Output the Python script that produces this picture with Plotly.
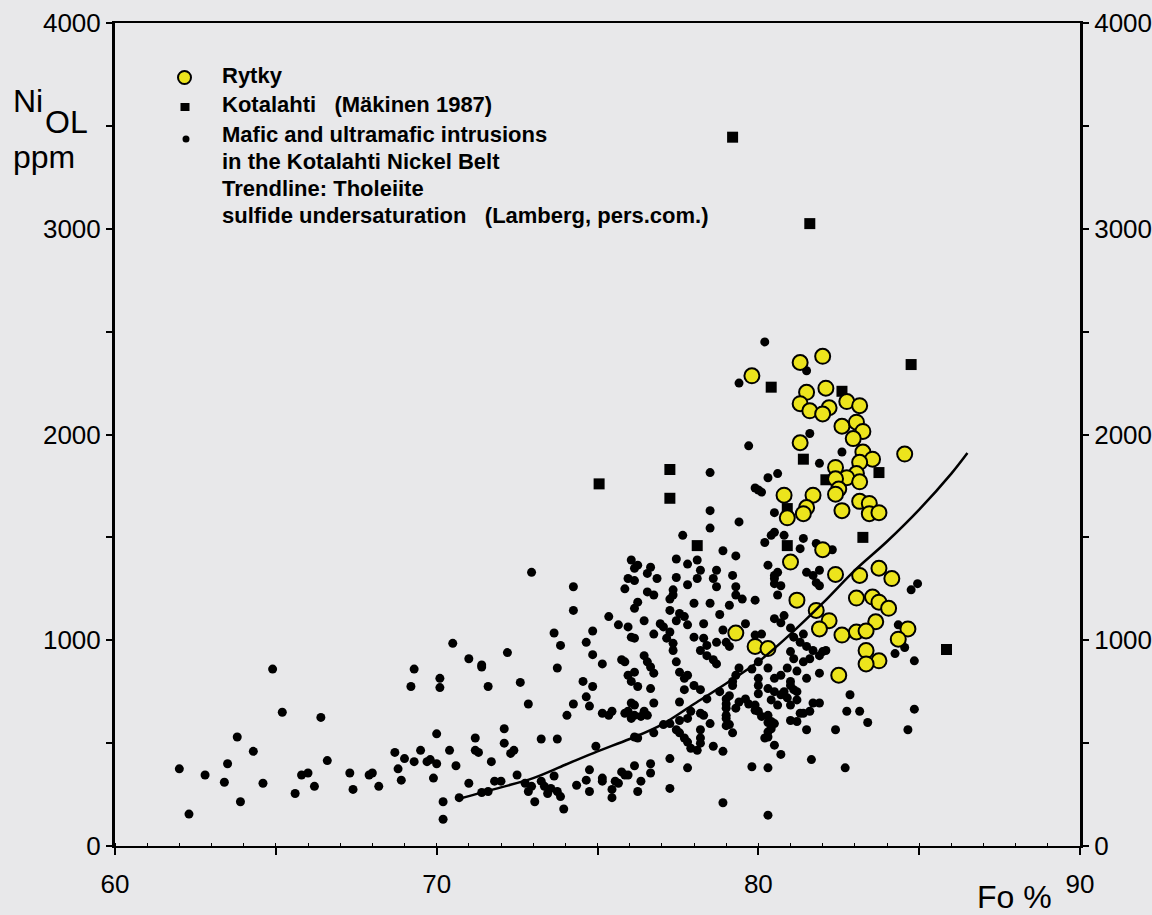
import plotly.graph_objects as go

# ---------------- data (Fo %, Ni ppm) ----------------
mafic = [
    (62.0,375),(62.3,155),(62.8,345),(63.4,310),(63.5,400),(63.8,530),(63.9,215),(64.3,460),(64.6,305),(64.9,860),
    (65.2,650),(65.6,255),(65.8,345),(66.0,355),(66.2,290),(66.4,625),(66.6,415),(67.3,355),(67.4,275),(67.9,345),
    (68.0,355),(68.2,290),(68.7,455),(68.8,375),(68.9,320),(69.0,425),(69.2,775),(69.3,860),(69.3,410),(69.5,465),
    (69.7,410),(69.8,420),(69.9,330),(70.0,545),(70.0,400),
    (70.1,815),(70.1,770),(70.2,215),(70.2,130),(70.4,465),(70.5,985),(70.6,390),(70.7,235),(71.0,910),(71.0,305),
    (71.2,525),(71.2,465),(71.3,455),(71.4,870),(71.4,880),(71.6,775),(71.7,410),(71.4,260),(71.6,265),(71.8,315),
    (72.0,315),(72.2,940),(72.6,795),(72.1,570),(72.1,500),(72.3,450),(72.4,465),(72.5,345),
    (72.85,690),(72.75,305),(72.95,290),(72.85,265),(73.05,215),(73.25,520),(73.75,520),(73.25,315),(73.35,290),
    (73.45,255),(73.65,340),(73.55,280),(73.75,265),(73.85,240),(73.95,180),(73.65,1035),(73.85,975),(73.75,865),
    (72.95,1330),
    (74.85,1045),(74.65,990),(74.85,930),(75.15,885),(74.55,800),(74.85,775),(74.65,725),(74.75,680),(74.25,690),
    (74.05,635),(75.15,645),(75.35,635),(75.45,655),(75.75,905),(75.85,895),(75.65,1075),(75.95,1065),(76.15,1010),
    (76.15,845),(75.95,655),(76.15,635),(76.15,685),(74.35,295),(74.65,320),(74.75,370),(74.75,265),(75.15,330),
    (75.15,315),(75.45,275),(75.45,235),(75.75,360),(75.85,345),(75.95,345),(75.55,315),(75.65,305),(76.15,390),
    (76.35,315),(76.25,265),(74.95,485),(76.15,530),(74.25,1260),(74.25,1145),(75.35,1115),(76.65,400),(76.65,355),
    (78.5,1630),(79.4,1575),(78.5,1545),(77.65,1510),(78.9,1435),(79.3,1410),(76.05,1390),(76.25,1365),(76.15,1350),
    (76.65,1355),(76.55,1325),(76.85,1300),(77.45,1395),(77.8,1370),(78.1,1390),(77.45,1305),(77.8,1270),(78.2,1340),
    (78.1,1300),(78.7,1340),(78.6,1300),(78.7,1260),(79.2,1315),(75.95,1300),(76.15,1290),(75.85,1250),(76.55,1235),
    (76.75,1220),(77.35,1245),(77.35,1220),(77.25,1200),(76.25,1185),(76.15,1155),(78.0,1180),(78.5,1180),(79.1,1170),
    (79.3,1220),(79.5,1200),(79.9,1195),(77.25,1145),(77.55,1130),(77.7,1115),(78.8,1125),(76.45,1095),(76.95,1080),
    (77.05,1065),(77.25,1040),(77.45,1095),(77.8,1075),(78.3,1080),(78.9,1050),(79.6,1080),(76.05,1015),(76.75,1030),
    (77.15,1010),(77.35,985),(77.35,950),(78.0,1015),(78.3,1010),(78.4,975),(78.7,990),(79.0,990),(79.1,970),
    (79.9,1025),(80.1,1030),(80.5,1105),(80.3,1365),(80.5,1315),(80.5,1275),(80.2,1475),(80.4,1510),(80.5,1525),
    (80.5,1620),(76.45,925),(76.55,895),(76.65,870),(76.75,840),(76.65,765),(77.45,895),(77.55,845),(77.7,815),
    (77.8,830),(78.2,950),(78.4,925),(78.6,905),(78.7,885),(78.0,780),(78.2,760),(79.4,865),(79.3,830),(79.2,800),
    (80.0,895),(80.3,865),(80.5,815),(80.3,765),
    (76.05,695),(76.75,695),(75.85,645),(76.45,655),(76.55,635),(76.05,620),(76.35,630),(77.55,700),(77.7,760),
    (77.9,655),(77.8,620),(77.55,610),(77.45,565),(77.55,550),(77.7,525),(77.8,505),(77.9,475),(78.1,465),(78.2,500),
    (77.25,595),(77.05,590),(76.75,550),(76.25,525),(78.3,635),(78.5,595),(78.2,565),(78.6,485),(78.4,715),(78.8,750),
    (79.0,715),(79.0,670),(79.0,620),(79.1,590),(79.2,550),(78.9,460),(79.3,670),(79.4,700),(79.6,715),(79.9,685),
    (80.0,655),(80.3,635),(80.4,605),(80.3,555),(80.3,530),(80.5,490),(77.25,425),(77.8,380),(77.25,280),(78.9,210),
    (79.8,385),(80.3,380),(80.3,150),
    (80.2,2450),(81.5,2310),(79.4,2250),(81.6,2005),(79.7,1945),(82.6,1915),(81.9,1860),(80.6,1810),(80.3,1790),
    (79.9,1740),(80.1,1720),(80.0,1730),(78.5,1815),
    (82.3,1440),(81.8,1470),(81.4,1495),(81.3,1445),(81.5,1330),(81.7,1315),(81.9,1340),(81.8,1280),(81.9,1265),
    (84.95,1275),(84.75,1245),(84.35,1075),(84.25,935),(84.85,900),(81.4,895),(81.6,910),(81.9,925),(82.0,945),
    (82.1,950),(81.9,840),(81.5,815),(80.8,1120),(81.0,1060),(81.4,1030),(81.1,1015),(81.3,990),(81.5,970),
    (81.7,950),(80.6,1330),(80.5,1300),(80.7,1265),(80.6,1220),(80.8,1510),(82.85,735),(81.0,780),(81.2,750),
    (81.0,945),(81.1,910),(84.55,965),
    (80.0,740),(80.5,750),(80.7,735),(80.4,710),(80.6,685),(81.2,710),(81.1,760),(81.7,695),(81.9,695),(81.3,645),
    (81.4,645),(81.6,655),(81.0,610),(81.2,605),(80.5,595),(80.2,525),(80.7,445),(81.5,565),(82.4,565),(82.75,655),
    (83.15,655),(83.4,600),(84.85,665),(84.65,565),(81.65,420),(82.7,380),
    (79.3,1260),(80.7,1085),(79.8,860),(80.0,815),(80.0,780),(79.2,780),(79.1,730),(79.0,690),(79.0,635),(79.0,585),
    (80.7,830),(80.9,865),(81.0,800),(81.2,850),(80.8,750),(80.9,720),(81.0,685),(79.7,690),(79.9,660),(80.1,630),
    (80.3,600),(80.4,570),(78.2,645),(78.2,525),(75.95,830),(76.05,800),(76.25,775),
]

kotalahti = [
    (79.2,3445),(81.6,3025),(75.05,1760),(77.25,1830),(77.25,1690),(78.1,1460),(80.4,2230),(81.4,1880),
    (82.6,2210),(82.1,1780),(83.75,1815),(84.75,2340),(80.9,1640),(80.9,1460),(83.25,1500),(85.85,955),
]

rytky = [
    (82.0,2380),(81.3,2350),(79.8,2285),(81.5,2205),(82.1,2225),(81.3,2150),(81.6,2115),(82.2,2130),(82.0,2100),
    (82.75,2160),(83.15,2140),(82.6,2040),(83.05,2060),(83.25,2015),(82.95,1980),(81.3,1960),(83.25,1915),
    (83.55,1880),(83.15,1865),(84.55,1905),(82.4,1840),(83.05,1810),(82.75,1790),(83.15,1770),(82.4,1785),
    (82.5,1735),(82.4,1710),(80.8,1705),(81.7,1705),(81.5,1645),(81.4,1615),(80.9,1595),(83.15,1675),(83.45,1665),
    (82.6,1630),(83.45,1615),(83.75,1620),
    (82.0,1440),(81.0,1380),(82.4,1320),(83.15,1315),(83.75,1350),(84.15,1300),(83.05,1205),(83.55,1210),
    (83.75,1185),(84.05,1155),(81.2,1195),(81.8,1145),(82.2,1095),(81.9,1055),(83.65,1090),(84.65,1055),
    (84.35,1005),(82.6,1025),(83.05,1040),(83.35,1045),(83.35,950),(83.75,900),(83.35,885),(82.5,830),
    (79.3,1035),(79.9,970),(80.3,960),
]

trend_fo = [70.7, 72.0, 73.0, 74.0, 75.0, 76.0, 77.0, 78.0, 79.0, 80.0, 81.0, 82.0, 83.0, 84.0, 85.0, 86.0, 86.5]
trend_ni = [230, 285, 330, 395, 460, 520, 590, 690, 790, 895, 1030, 1180, 1340, 1480, 1635, 1810, 1910]

x_tickvals = [60, 65, 70, 75, 80, 85, 90]
x_ticktext = ["60", "", "70", "", "80", "", "90"]
y_tickvals = [0, 500, 1000, 1500, 2000, 2500, 3000, 3500, 4000]
y_ticktext = ["0", "", "1000", "", "2000", "", "3000", "", "4000"]

legend_lines = [
    "Rytky",
    "Kotalahti\u00a0\u00a0\u00a0(Mäkinen 1987)",
    "Mafic and ultramafic intrusions",
    "in the Kotalahti Nickel Belt",
    "Trendline: Tholeiite",
    "sulfide undersaturation\u00a0\u00a0\u00a0(Lamberg, pers.com.)",
]

# ---------------- figure ----------------
FONT = "Liberation Sans, Arial, sans-serif"
BG = "#e8e8ea"
W, H = 1152, 915
L, R, T, B = 115, 72, 23, 69
PW, PH = W - L - R, H - T - B

def px(X):
    return (X - L) / PW

def py(Y):
    return (H - B - Y) / PH

fig = go.Figure()
fig.add_trace(go.Scatter(
    x=[p[0] for p in mafic], y=[p[1] for p in mafic], mode="markers",
    marker=dict(color="black", size=9, line=dict(width=0)), showlegend=False, hoverinfo="skip"))
fig.add_trace(go.Scatter(
    x=[p[0] for p in kotalahti], y=[p[1] for p in kotalahti], mode="markers",
    marker=dict(color="black", size=11, symbol="square", line=dict(width=0)), showlegend=False))
fig.add_trace(go.Scatter(
    x=[p[0] for p in rytky], y=[p[1] for p in rytky], mode="markers",
    marker=dict(color="#ece41c", size=15, line=dict(color="black", width=2)), showlegend=False))
fig.add_trace(go.Scatter(
    x=trend_fo, y=trend_ni, mode="lines", yaxis="y2",
    line=dict(color="black", width=2.5, shape="spline"), showlegend=False))

tickfont = dict(family=FONT, size=26, color="black")
fig.update_layout(
    width=W, height=H,
    margin=dict(l=L, r=R, t=T, b=B, autoexpand=False),
    paper_bgcolor=BG, plot_bgcolor=BG,
    font=dict(family=FONT, color="black"),
    xaxis=dict(range=[60, 90], tickvals=x_tickvals, ticktext=x_ticktext, automargin=False,
               ticks="outside", ticklen=7, tickwidth=2, tickcolor="black",
               showline=True, linewidth=2, linecolor="black", mirror=True,
               showgrid=False, zeroline=False, tickfont=tickfont, ticklabelstandoff=7,
               minor=dict(dtick=1, ticks="inside", ticklen=3, tickwidth=1, tickcolor="black")),
    yaxis=dict(range=[0, 4000], tickvals=y_tickvals, ticktext=y_ticktext, automargin=False,
               ticks="outside", ticklen=6, tickwidth=2, tickcolor="black",
               showline=True, linewidth=3, linecolor="black",
               showgrid=False, zeroline=False, tickfont=tickfont),
    yaxis2=dict(range=[0, 4000], tickvals=y_tickvals, ticktext=y_ticktext, overlaying="y", side="right",
                automargin=False,
                ticks="outside", ticklen=6, tickwidth=2, tickcolor="black",
                showline=True, linewidth=3, linecolor="black",
                showgrid=False, zeroline=False, tickfont=tickfont),
)

# legend glyphs
fig.add_shape(type="circle", xref="paper", yref="paper", xsizemode="pixel", ysizemode="pixel",
              xanchor=px(184.5), yanchor=py(77.5), x0=-6.5, x1=6.5, y0=-6.5, y1=6.5,
              fillcolor="#ece41c", line=dict(color="black", width=2))
fig.add_shape(type="rect", xref="paper", yref="paper", xsizemode="pixel", ysizemode="pixel",
              xanchor=px(185), yanchor=py(107), x0=-4.5, x1=4.5, y0=-4, y1=4,
              fillcolor="black", line=dict(width=0))
fig.add_shape(type="circle", xref="paper", yref="paper", xsizemode="pixel", ysizemode="pixel",
              xanchor=px(186), yanchor=py(139), x0=-3.5, x1=3.5, y0=-3.5, y1=3.5,
              fillcolor="black", line=dict(width=0))

legend_y = [76, 104, 134, 161, 189, 215]
for txt, yy in zip(legend_lines, legend_y):
    fig.add_annotation(text="<b>" + txt + "</b>", xref="paper", yref="paper", x=px(220), y=py(yy),
                       xanchor="left", yanchor="middle", showarrow=False,
                       font=dict(family=FONT, size=22, color="black"))

# axis titles
fig.add_annotation(text="Ni", xref="paper", yref="paper", x=px(11), y=py(101), xanchor="left",
                   yanchor="middle", showarrow=False, font=dict(family=FONT, size=32, color="black"))
fig.add_annotation(text="OL", xref="paper", yref="paper", x=px(43), y=py(122), xanchor="left",
                   yanchor="middle", showarrow=False, font=dict(family=FONT, size=32, color="black"))
fig.add_annotation(text="ppm", xref="paper", yref="paper", x=px(11), y=py(157), xanchor="left",
                   yanchor="middle", showarrow=False, font=dict(family=FONT, size=32, color="black"))
fig.add_annotation(text="Fo %", xref="paper", yref="paper", x=px(975), y=py(897), xanchor="left",
                   yanchor="middle", showarrow=False, font=dict(family=FONT, size=32, color="black"))

fig.write_html("out.html", config={"displayModeBar": False},
               post_script="document.body.style.margin='0px';document.body.style.padding='0px';"
                           "document.body.style.overflow='hidden';")
